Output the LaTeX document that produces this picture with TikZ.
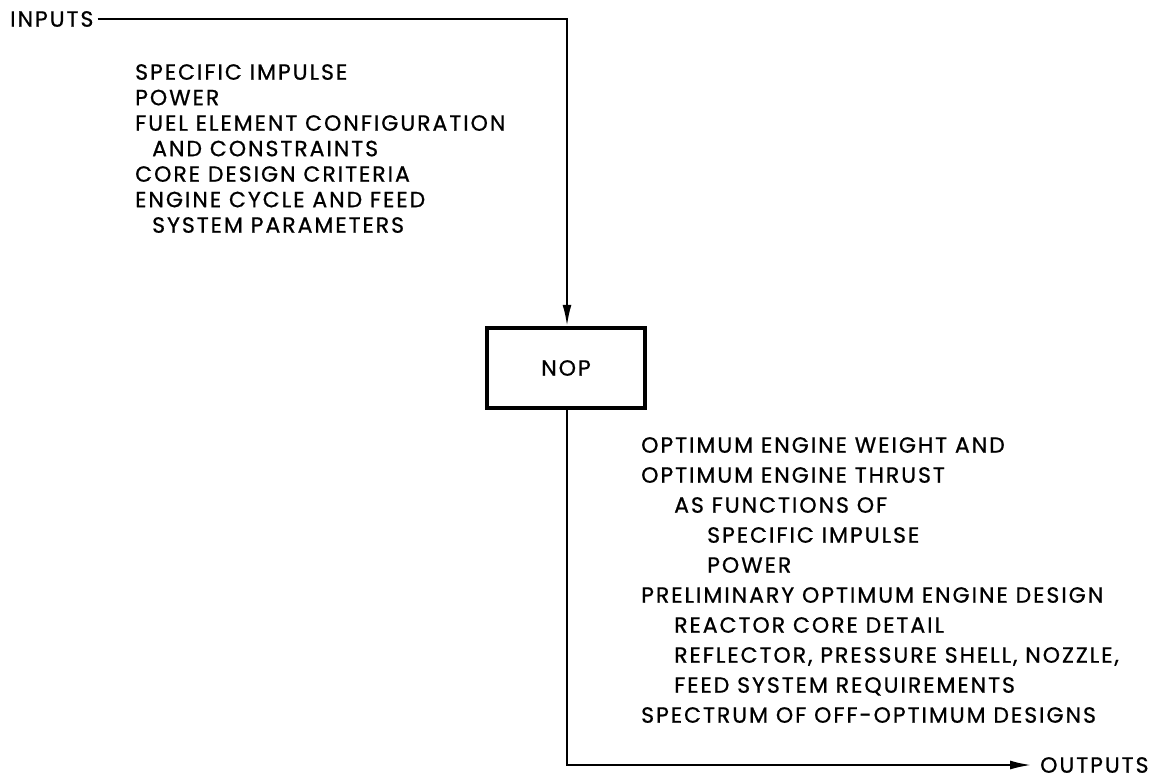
\documentclass[tikz,border=0pt]{standalone}
\usepackage{fontspec}
\setmainfont{Poppins}[LetterSpace=9, UprightFeatures={FakeBold=0.8}]
\usetikzlibrary{arrows.meta}
\begin{document}
\begin{tikzpicture}[x=1pt,y=-1pt,
  lbl/.style={font=\fontsize{22}{25.5}\selectfont, inner sep=0pt, align=left},
  wire/.style={line width=1.9pt},
  arr/.style={-{Latex[length=21pt,width=9pt]}},
  boxnode/.style={draw, line width=4.5pt, minimum width=158pt, minimum height=80pt, inner sep=0pt, font=\fontsize{22}{25}\selectfont}]
\useasboundingbox (0,0) rectangle (1174,781);
\node[lbl, anchor=west] (in) at (10,19) {INPUTS};
\node[boxnode] (nop) at (566,368) {NOP};
\node[lbl, anchor=west] (out) at (1040,765) {OUTPUTS};
\coordinate (c1) at (567,19);
\coordinate (c2) at (567,765);
\draw[wire,arr] ([xshift=4pt]in.east) -- (c1) -- (c1 |- nop.north);
\draw[wire,arr] (c2 |- nop.south) -- (c2) -- ([xshift=-9pt]out.west);
\node[lbl, anchor=north west] (inlist) at (135,64) {SPECIFIC IMPULSE\\
POWER\\
FUEL ELEMENT CONFIGURATION\\
\hspace{17pt}AND CONSTRAINTS\\
CORE DESIGN CRITERIA\\
ENGINE CYCLE AND FEED\\
\hspace{17pt}SYSTEM PARAMETERS};
\node[lbl, anchor=north west, font=\fontsize{22}{30}\selectfont] (outlist) at (641,437) {OPTIMUM ENGINE WEIGHT AND\\
OPTIMUM ENGINE THRUST\\
\hspace{33pt}AS FUNCTIONS OF\\
\hspace{66pt}SPECIFIC IMPULSE\\
\hspace{66pt}POWER\\
PRELIMINARY OPTIMUM ENGINE DESIGN\\
\hspace{33pt}REACTOR CORE DETAIL\\
\hspace{33pt}REFLECTOR, PRESSURE SHELL, NOZZLE,\\
\hspace{33pt}FEED SYSTEM REQUIREMENTS\\
SPECTRUM OF OFF-OPTIMUM DESIGNS};
\end{tikzpicture}
\end{document}
